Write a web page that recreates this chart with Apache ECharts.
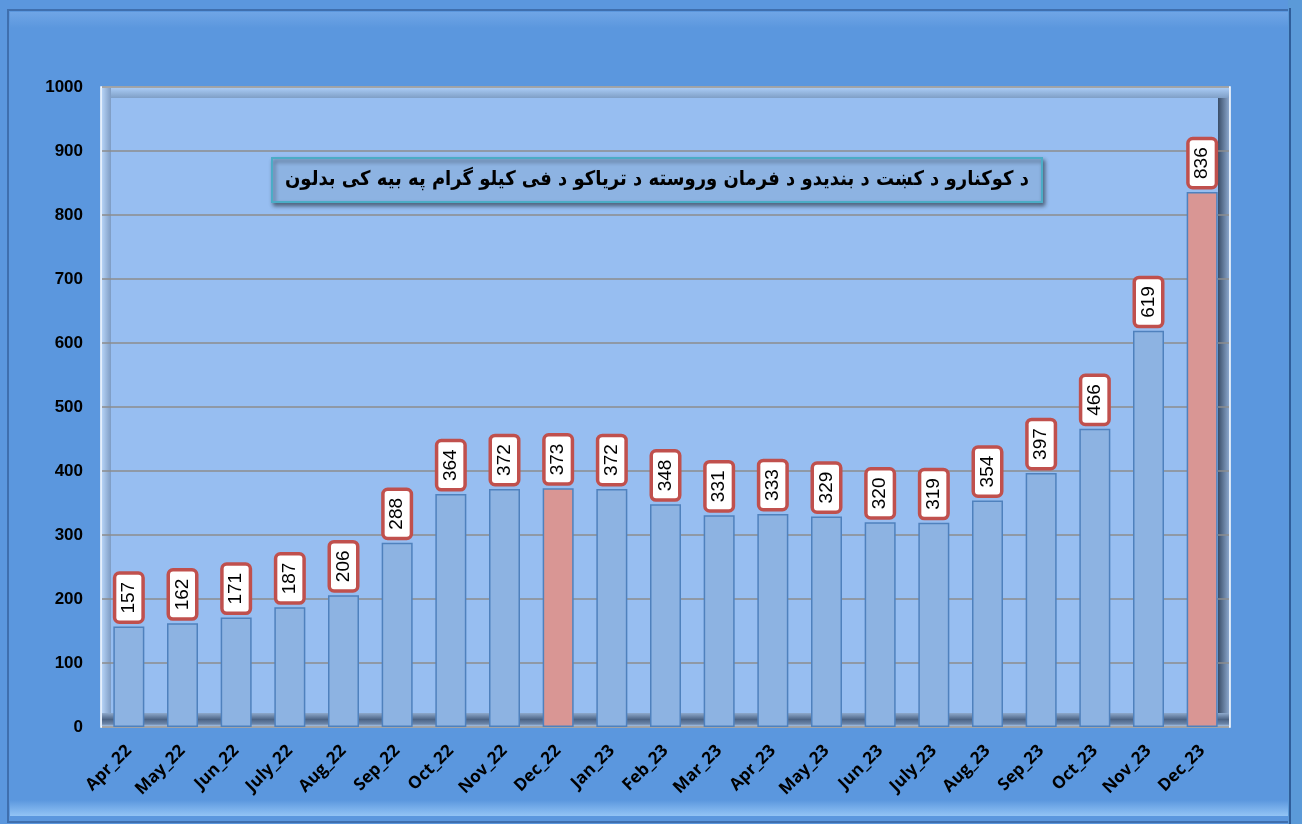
<!DOCTYPE html>
<html>
<head>
<meta charset="utf-8">
<script src="https://cdn.jsdelivr.net/npm/echarts@6/dist/echarts.min.js"></script>
<style>
  html, body { margin: 0; padding: 0; background: #5b97de; }
  #chart { width: 1302px; height: 824px; }
</style>
</head>
<body>
<div id="chart"></div>
<script>
const months = ['Apr_22', 'May_22', 'Jun_22', 'July_22', 'Aug_22', 'Sep_22', 'Oct_22', 'Nov_22', 'Dec_22',
  'Jan_23', 'Feb_23', 'Mar_23', 'Apr_23', 'May_23', 'Jun_23', 'July_23', 'Aug_23', 'Sep_23', 'Oct_23', 'Nov_23', 'Dec_23']
const prices = [157, 162, 171, 187, 206, 288, 364, 372, 373, 372, 348, 331, 333, 329, 320, 319, 354, 397, 466, 619, 836]
// ستنې چې بل رنګ لري
const highlighted = ['Dec_22', 'Dec_23']
const yTicks = [0, 100, 200, 300, 400, 500, 600, 700, 800, 900, 1000]
const titleText = 'د کوکنارو د کښت د بندیدو د فرمان وروسته د تریاکو د فی کیلو گرام په بیه کی بدلون'

const chart = echarts.init(document.getElementById('chart'))

const barData = prices.map((v, i) => {
  const hot = highlighted.includes(months[i])
  return {
    value: v,
    itemStyle: { color: hot ? '#d99694' : '#8db3e2' }
  }
})

chart.setOption({
  backgroundColor: '#5b97de',
  animation: false,
  title: {
    text: titleText,
    left: 272,
    top: 158,
    padding: [12, 13],
    backgroundColor: '#8db3e2',
    borderColor: '#4bacc6',
    borderWidth: 2,
    shadowColor: 'rgba(0,0,0,0.45)',
    shadowBlur: 4,
    shadowOffsetX: 2,
    shadowOffsetY: 3,
    textStyle: {
      fontFamily: 'DejaVu Sans Condensed',
      fontWeight: 'bold',
      fontSize: 20,
      color: '#000'
    }
  },
  // قاب او دیوالونه
  graphic: [
    { type: 'rect', z: -10, shape: { x: 8, y: 10, width: 1284, height: 812 },
      style: { fill: '#5b97de', stroke: '#3f6fae', lineWidth: 2 } },
    { type: 'rect', z: -9, shape: { x: 10, y: 12, width: 1280, height: 16 },
      style: { fill: { type: 'linear', x: 0, y: 0, x2: 0, y2: 1,
        colorStops: [{ offset: 0, color: '#6fa5e6' }, { offset: 1, color: '#5b97de' }] } } },
    { type: 'rect', z: -9, shape: { x: 10, y: 800, width: 1280, height: 16 },
      style: { fill: { type: 'linear', x: 0, y: 0, x2: 0, y2: 1,
        colorStops: [{ offset: 0, color: '#5b97de' }, { offset: 1, color: '#93c4f5' }] } } },
    { type: 'rect', z: -9, shape: { x: 1288, y: 0, width: 14, height: 824 },
      style: { fill: '#5b9ad8' } },
    { type: 'rect', z: -9, shape: { x: 1289, y: 8, width: 2, height: 816 },
      style: { fill: '#2f5d99' } },
    // شاته دیوال
    { type: 'rect', z: -5, shape: { x: 101, y: 87, width: 1129, height: 640 },
      style: { fill: '#97bef1', stroke: '#ffffff', lineWidth: 1.5 } },
    { type: 'rect', z: -4, shape: { x: 102, y: 88, width: 1127, height: 10 },
      style: { fill: { type: 'linear', x: 0, y: 0, x2: 0, y2: 1,
        colorStops: [{ offset: 0, color: '#a9cbf5' }, { offset: 1, color: '#7f9fc6' }] } } },
    { type: 'rect', z: -4, shape: { x: 102, y: 88, width: 9, height: 638 },
      style: { fill: { type: 'linear', x: 0, y: 0, x2: 1, y2: 0,
        colorStops: [{ offset: 0, color: '#b5d2f5' }, { offset: 1, color: '#7e9cc4' }] } } },
    { type: 'rect', z: -4, shape: { x: 1218, y: 98, width: 11, height: 628 },
      style: { fill: { type: 'linear', x: 0, y: 0, x2: 1, y2: 0,
        colorStops: [{ offset: 0, color: '#394d68' }, { offset: 1, color: '#8aa6cc' }] } } },
    // فرش
    { type: 'rect', z: -4, shape: { x: 102, y: 713, width: 1127, height: 13 },
      style: { fill: { type: 'linear', x: 0, y: 0, x2: 0, y2: 1,
        colorStops: [{ offset: 0, color: '#8ea9cc' }, { offset: 0.5, color: '#4c6485' },
          { offset: 0.85, color: '#6d87ab' }, { offset: 1, color: '#a7c3e6' }] } } }
  ],
  grid: {
    left: 102,
    right: 73,
    top: 87,
    bottom: 97
  },
  xAxis: {
    type: 'category',
    data: months,
    axisLine: { show: false },
    axisTick: { show: false },
    axisLabel: {
      rotate: 45,
      interval: 0,
      margin: 21,
      color: '#000',
      fontWeight: 'bold',
      fontSize: 17,
      fontFamily: 'Open Sans'
    }
  },
  yAxis: {
    type: 'value',
    min: yTicks[0],
    max: yTicks[yTicks.length - 1],
    interval: 100,
    axisLine: { show: false },
    axisTick: { show: false },
    axisLabel: {
      margin: 19,
      color: '#000',
      fontWeight: 'bold',
      fontSize: 17,
      fontFamily: 'Liberation Sans',
      formatter: v => String(v)
    },
    splitLine: { lineStyle: { color: '#8d8d8d', width: 1.5 } }
  },
  series: [
    {
      type: 'bar',
      data: barData,
      barWidth: 31,
      itemStyle: {
        borderColor: '#4f81bd',
        borderWidth: 1.5
      },
      label: {
        show: true,
        position: 'top',
        rotate: 90,
        align: 'left',
        verticalAlign: 'middle',
        distance: 6,
        color: '#000',
        fontSize: 19,
        fontFamily: 'Liberation Sans',
        backgroundColor: '#fff',
        borderColor: '#c0504d',
        borderWidth: 3.5,
        borderRadius: 3,
        padding: [4, 7, 2, 7]
      }
    }
  ]
})
</script>
</body>
</html>
